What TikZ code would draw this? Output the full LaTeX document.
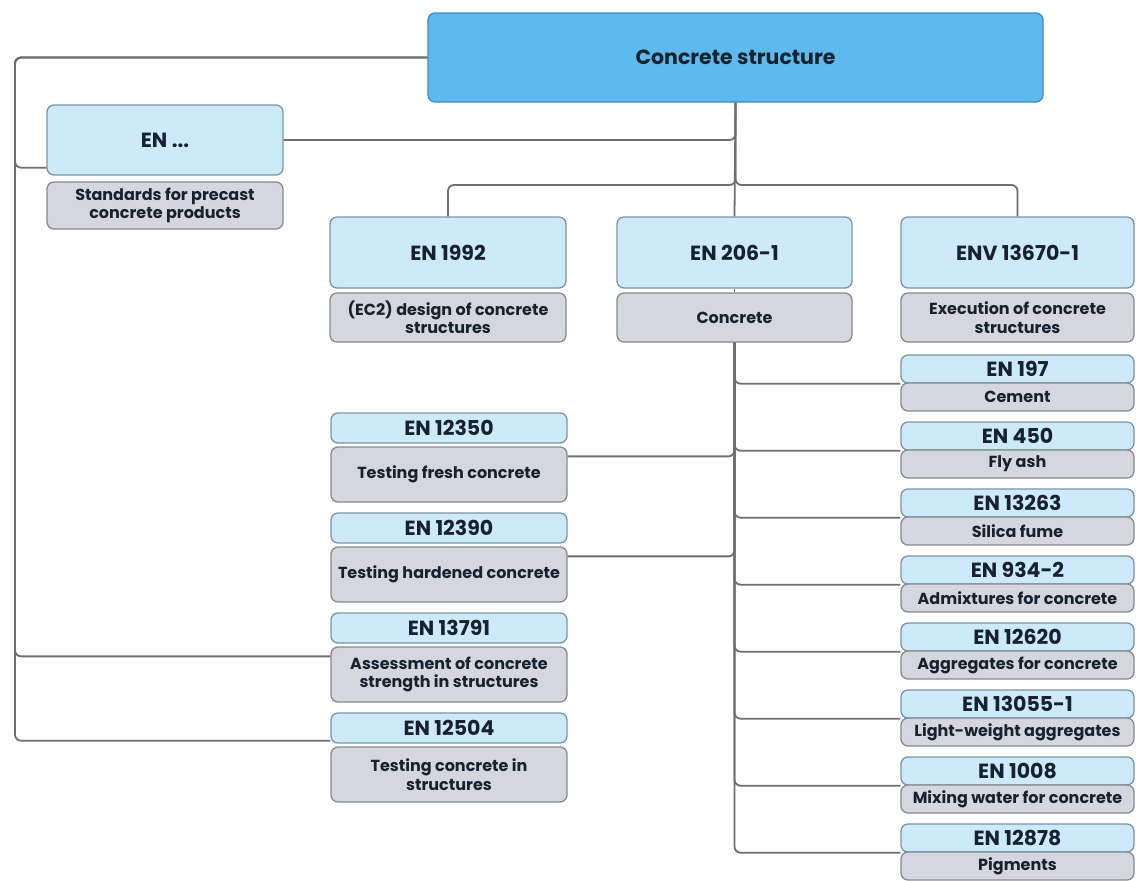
\documentclass[tikz,border=0pt]{standalone}
\usepackage{fontspec}
\setmainfont{Poppins}
\usetikzlibrary{calc}
\definecolor{topfill}{HTML}{5DB9EE}
\definecolor{topbord}{HTML}{3F8CC0}
\definecolor{lfill}{HTML}{CDEAFB}
\definecolor{lbord}{HTML}{7D93A5}
\definecolor{gfill}{HTML}{D4D7DD}
\definecolor{gbord}{HTML}{858B93}
\definecolor{txt}{HTML}{17222E}
\definecolor{linec}{HTML}{6E6E6E}
\begin{document}
\begin{tikzpicture}[x=1pt,y=-1pt,
  box/.style={rectangle, rounded corners=7pt, line width=1.3pt, inner sep=0pt, align=center, text=txt},
  code/.style={box, fill=lfill, draw=lbord, font=\bfseries\fontsize{20.5}{24}\selectfont},
  desc/.style={box, fill=gfill, draw=gbord, font=\bfseries\fontsize{16}{18.5}\selectfont},
  topbox/.style={box, fill=topfill, draw=topbord, font=\bfseries\fontsize{20.5}{24}\selectfont},
  conn/.style={draw=linec, line width=1.8pt, rounded corners=6pt}]
\useasboundingbox (0,0) rectangle (1136,881);
\fill[white] (0,0) rectangle (1136,881);

% top
\node[topbox, minimum width=615pt, minimum height=89pt] (top) at (735.5,57.5) {Concrete structure};

% EN ...
\node[code, minimum width=236pt, minimum height=70pt] (enx) at (165,140) {EN ...};
\node[desc, minimum width=236pt, minimum height=47pt] (enxd) at (165,205.5) {Standards for precast\\concrete products};

% middle row
\node[code, minimum width=236pt, minimum height=71pt] (en1992) at (448,252.5) {EN 1992};
\node[desc, minimum width=236pt, minimum height=49pt] (d1992) at (448,317.5) {(EC2) design of concrete\\structures};
\node[code, minimum width=235pt, minimum height=71pt] (en206) at (734.5,252.5) {EN 206-1};
\node[desc, minimum width=235pt, minimum height=49pt] (d206) at (734.5,317.5) {Concrete};
\node[code, minimum width=233pt, minimum height=71pt] (env) at (1017.5,252.5) {ENV 13670-1};
\node[desc, minimum width=233pt, minimum height=49pt] (denv) at (1017.5,317.5) {Execution of concrete\\structures};

% left column
\node[code, minimum width=236pt, minimum height=30pt] (l0) at (449,428) {EN 12350};
\node[desc, minimum width=236pt, minimum height=55pt] (ld0) at (449,474.5) {Testing fresh concrete};
\node[code, minimum width=236pt, minimum height=30pt] (l1) at (449,528) {EN 12390};
\node[desc, minimum width=236pt, minimum height=55pt] (ld1) at (449,574.5) {Testing hardened concrete};
\node[code, minimum width=236pt, minimum height=30pt] (l2) at (449,628) {EN 13791};
\node[desc, minimum width=236pt, minimum height=55pt] (ld2) at (449,674.5) {Assessment of concrete\\strength in structures};
\node[code, minimum width=236pt, minimum height=30pt] (l3) at (449,728) {EN 12504};
\node[desc, minimum width=236pt, minimum height=55pt] (ld3) at (449,774.5) {Testing concrete in\\structures};

% connector helpers
\coordinate (railL) at (15,0);
\coordinate (busY) at (0,185);
\coordinate (jenx) at ([yshift=8pt]enx.south west);
\coordinate (j13791) at ([yshift=-10pt]ld2.north west);
\coordinate (j12504) at ([yshift=3pt]l3.south west);
\coordinate (jf) at ([yshift=-10pt]ld0.north east);
\coordinate (jh) at ([yshift=-10pt]ld1.north east);

% left rail
\draw[conn] (top.west) -| (railL |- j12504) -- (j12504);
\draw[conn] (top.west) -| (railL |- j13791) -- (j13791);
\draw[conn] (top.west) -| (railL |- jenx) -- (jenx);

% EN ... to trunk
\draw[conn] (enx.east) -| (top.south);
% trunk and bus
\draw[conn] (top.south) -- (en206.north);
\draw[conn] (top.south) |- (en1992.north |- busY) -- (en1992.north);
\draw[conn] (top.south) |- (env.north |- busY) -- (env.north);
\draw[conn] (en206.south) -- (d206.north);

% left branches from Concrete
\draw[conn] (d206.south) |- (jf);
\draw[conn] (d206.south) |- (jh);

% right column
\foreach \c/\d [count=\i from 0] in {EN 197/Cement, EN 450/Fly ash, EN 13263/Silica fume, EN 934-2/Admixtures for concrete, EN 12620/Aggregates for concrete, EN 13055-1/Light-weight aggregates, EN 1008/Mixing water for concrete, EN 12878/Pigments}{
  \node[code, minimum width=233pt, minimum height=28pt] (r\i) at (1017.5,{355+67*\i+14}) {\c};
  \node[desc, minimum width=233pt, minimum height=28pt] (rd\i) at (1017.5,{355+67*\i+42}) {\d};
  \draw[conn] (d206.south) |- (r\i.south west);
}
\end{tikzpicture}
\end{document}
